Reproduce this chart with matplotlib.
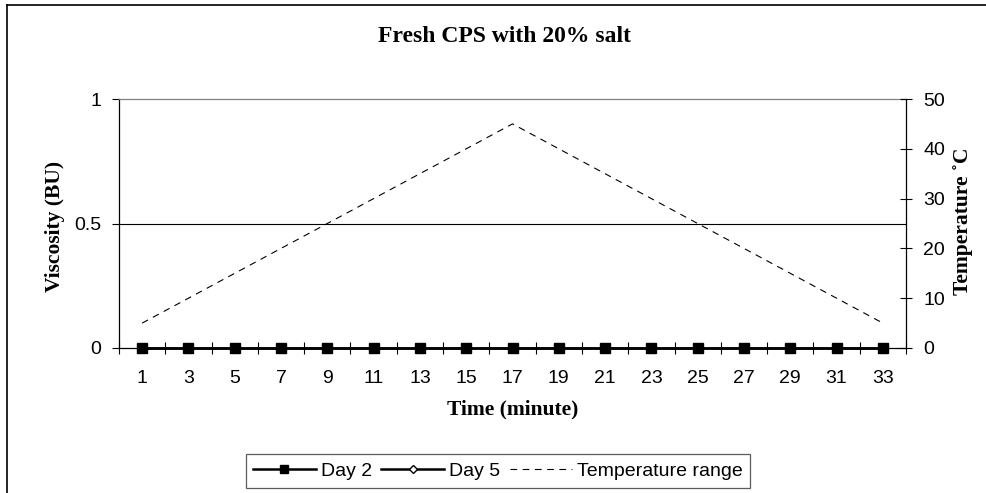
import matplotlib.pyplot as plt
import matplotlib.lines as mlines
import numpy as np

# data
minutes = [1, 3, 5, 7, 9, 11, 13, 15, 17, 19, 21, 23, 25, 27, 29, 31, 33]
day2 = [0, 0, 0, 0, 0, 0, 0, 0, 0, 0, 0, 0, 0, 0, 0, 0, 0]
day5 = [0, 0, 0, 0, 0, 0, 0, 0, 0, 0, 0, 0, 0, 0, 0, 0, 0]
temperature = [5, 10, 15, 20, 25, 30, 35, 40, 45, 40, 35, 30, 25, 20, 15, 10, 5]
visc_ticks = [0, 0.5, 1]
visc_labels = ['0', '0.5', '1']
temp_ticks = [0, 10, 20, 30, 40, 50]

serif = ['Liberation Serif', 'DejaVu Serif']
sans = ['Liberation Sans', 'DejaVu Sans']
plt.rcParams['font.family'] = sans

W, H = 987, 493
fig = plt.figure(figsize=(W / 100, H / 100), dpi=100)

# outer chart frame (only top and left are visible in the crop)
fig.add_artist(mlines.Line2D([7 / W, 7 / W], [0, 1 - 5 / H], color='black', lw=1.2))
fig.add_artist(mlines.Line2D([7 / W, 1], [1 - 5 / H, 1 - 5 / H], color='black', lw=1.2))

left, right, top, bottom = 119, 906, 99, 348
ax = fig.add_axes([left / W, 1 - bottom / H, (right - left) / W, (bottom - top) / H])
x = np.arange(len(minutes))

ax.set_xlim(-0.5, len(minutes) - 0.5)
ax.set_ylim(0, 1)
ax.axhline(0.5, color='black', lw=0.8, zorder=1)

ln5, = ax.plot(x, day5, color='black', lw=1.8, marker='D', markersize=5,
               markerfacecolor='white', markeredgecolor='black', clip_on=False, zorder=3)
ln2, = ax.plot(x, day2, color='black', lw=1.8, marker='s', markersize=7,
               markerfacecolor='black', clip_on=False, zorder=4)

ax.set_xticks(x)
ax.set_xticklabels([str(m) for m in minutes], fontsize=14)
ax.set_xticks(np.arange(-0.5, len(minutes)), minor=True)
ax.tick_params(axis='x', which='major', length=0, pad=16)
ax.tick_params(axis='x', which='minor', direction='inout', length=9, width=0.8)
ax.set_yticks(visc_ticks)
ax.set_yticklabels(visc_labels, fontsize=14)
ax.tick_params(axis='y', direction='out', length=5, width=0.8, pad=8)

for s in ['left', 'bottom']:
    ax.spines[s].set_linewidth(0.9)
ax.spines['top'].set_color('#808080')
ax.spines['top'].set_linewidth(0.9)
ax.spines['right'].set_visible(False)

ax.set_xlabel('Time (minute)', family=serif, fontweight='bold', fontsize=15.5)
ax.xaxis.set_label_coords(0.5, (348 - 409) / 249, transform=ax.transAxes)
ax.xaxis.label.set_va('center')
ax.set_ylabel('Viscosity (BU)', family=serif, fontweight='bold', fontsize=15.5)
ax.yaxis.set_label_coords((55 - 119) / 787, 0.49)
ax.yaxis.label.set_va('center')

ax2 = ax.twinx()
ax2.set_ylim(0, 50)
lnt, = ax2.plot(x, temperature, color='black', lw=0.8, dashes=(6, 5))
ax2.set_yticks(temp_ticks)
ax2.tick_params(axis='y', direction='inout', length=9, width=0.8, labelsize=14, pad=8)
for s in ['left', 'top', 'bottom']:
    ax2.spines[s].set_visible(False)
ax2.spines['right'].set_linewidth(0.9)
ax2.set_ylabel('Temperature ˚C', family=serif, fontweight='bold', fontsize=15.5)
ax2.yaxis.set_label_coords((963 - 119) / 787, 0.51)
ax2.yaxis.label.set_va('center')

fig.text(505 / W, 1 - 37 / H, 'Fresh CPS with 20% salt', family=serif,
         fontweight='bold', fontsize=17, ha='center', va='center')

leg = fig.legend([ln2, ln5, lnt], ['Day 2', 'Day 5', 'Temperature range'],
                 loc='center', bbox_to_anchor=(498 / W, 1 - 471 / H), ncol=3,
                 fontsize=14, frameon=True, fancybox=False, handlelength=3.2,
                 handletextpad=0.26, columnspacing=0.5, borderpad=0.4,
                 borderaxespad=0, markerscale=0.8)
leg.get_frame().set_edgecolor('#333333')
leg.get_frame().set_linewidth(0.9)

fig.savefig('out.png', dpi=100)
